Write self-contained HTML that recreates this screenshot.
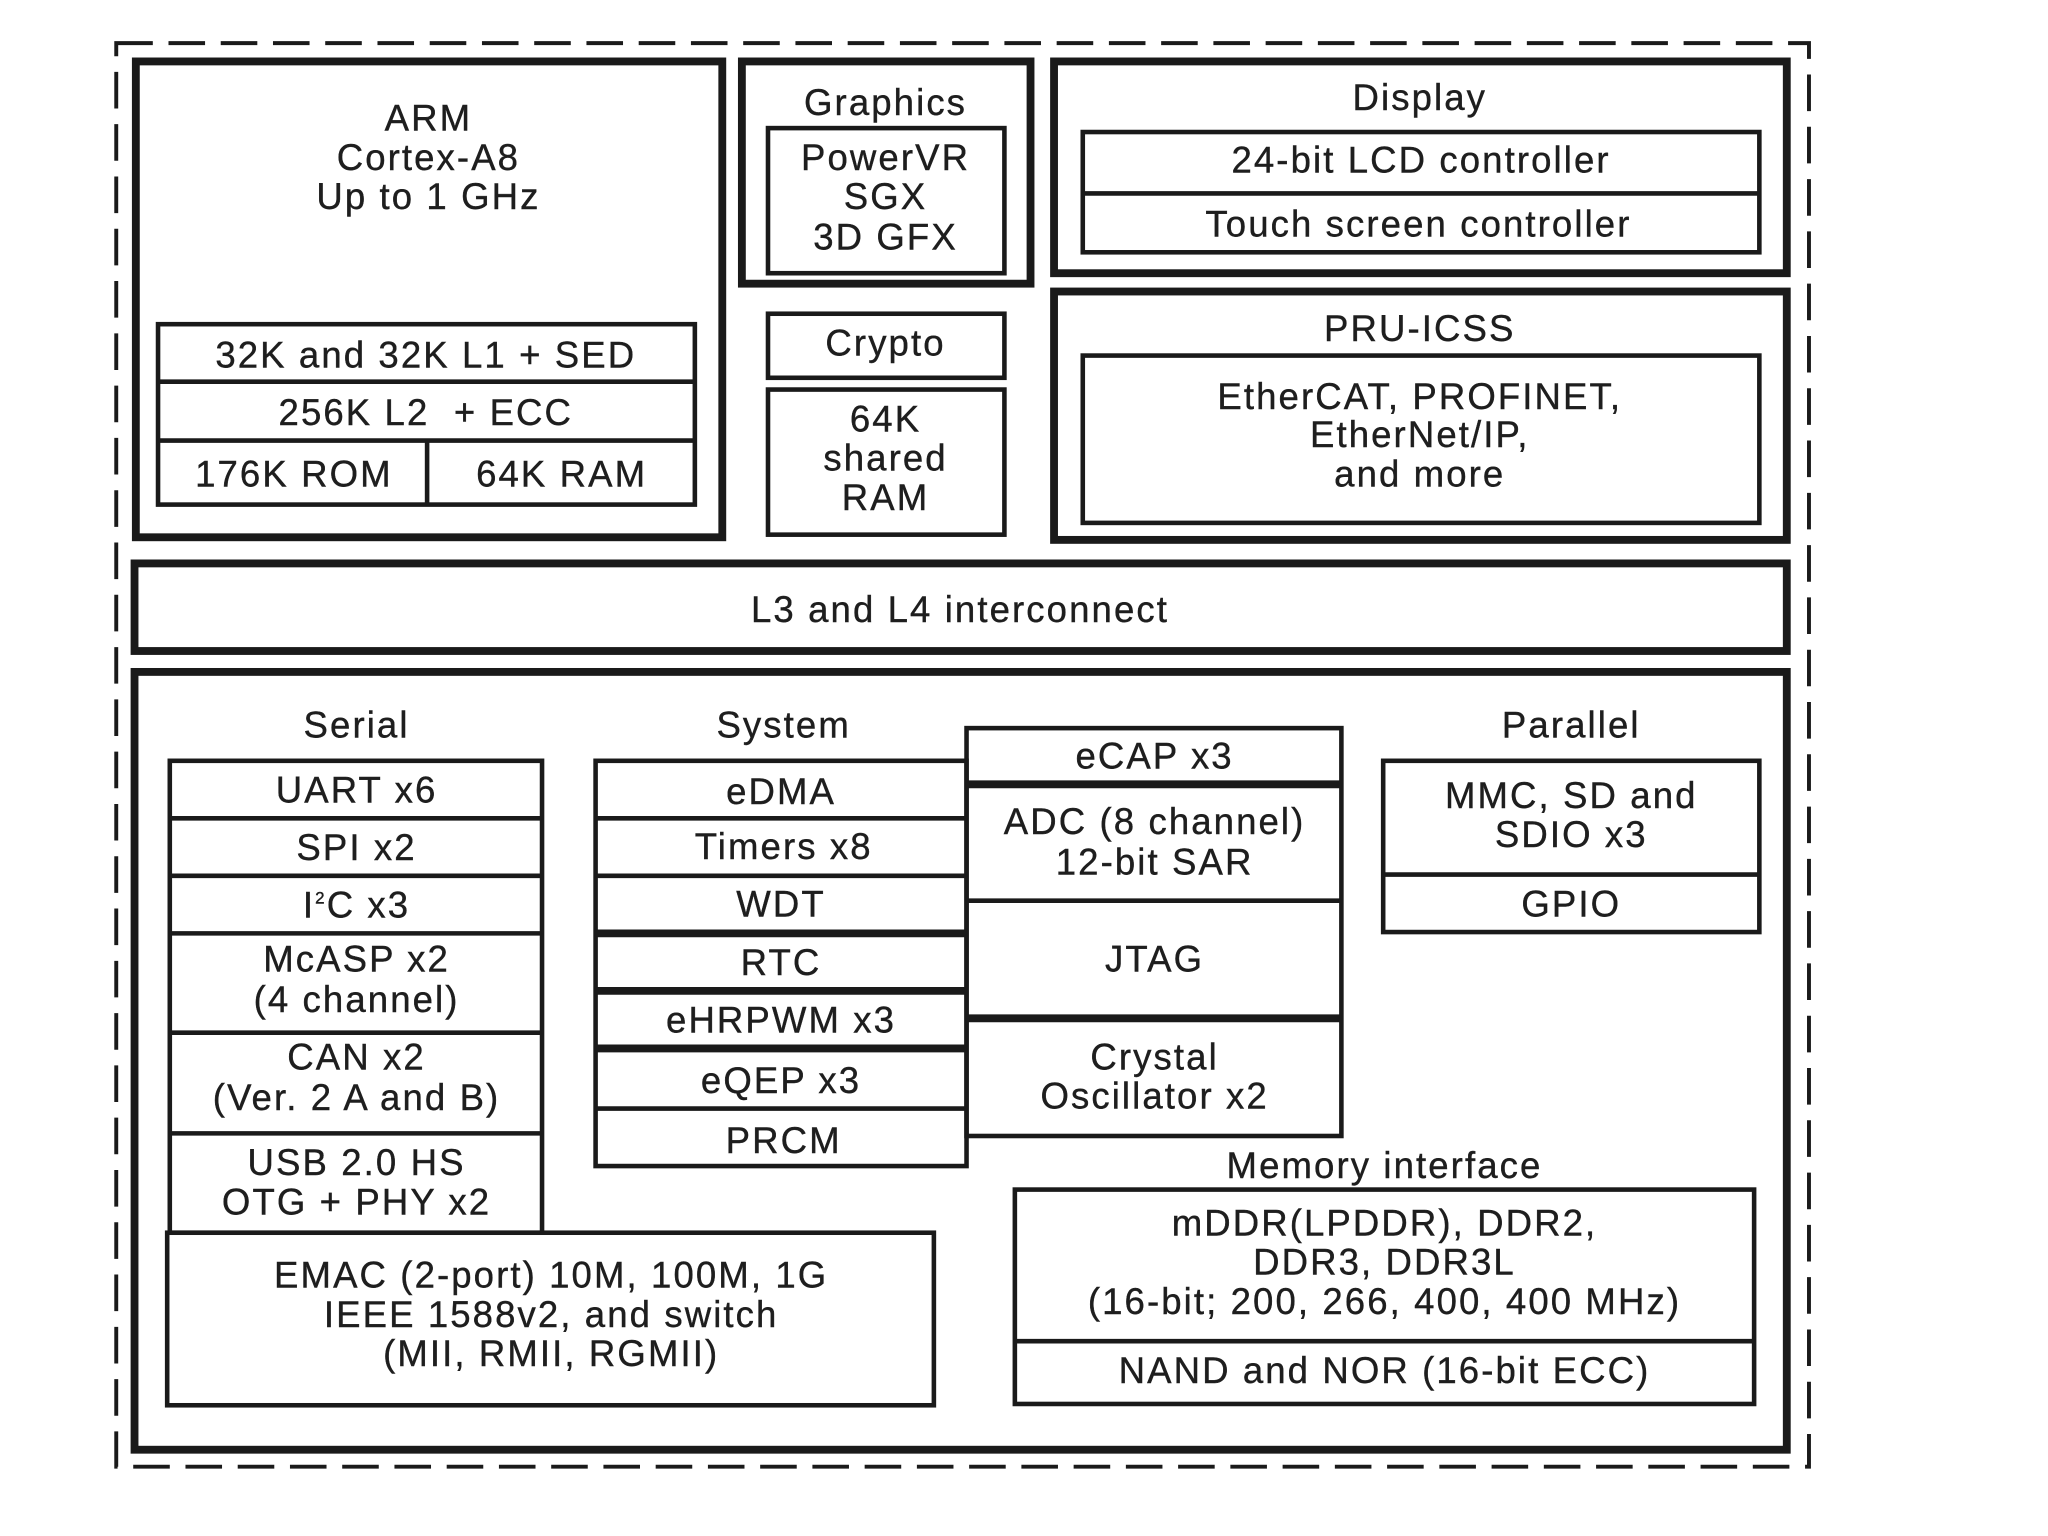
<!DOCTYPE html>
<html><head><meta charset="utf-8"><style>
html,body{margin:0;padding:0;background:#fff;}
svg{display:block;}
text{font-family:"Liberation Sans",sans-serif;font-size:28px;letter-spacing:1.6px;fill:#1e1e1e;text-anchor:middle;stroke:#1e1e1e;stroke-width:0.3;}
.k{fill:none;stroke:#1a1a1a;stroke-width:6;}
.t{fill:none;stroke:#1a1a1a;stroke-width:3.5;}
</style></head><body>
<svg width="2048" height="1536" viewBox="0 0 1568 1175" preserveAspectRatio="none" xmlns="http://www.w3.org/2000/svg">
<rect x="0" y="0" width="1568" height="1175" fill="#fff"/>
<rect x="89" y="33" width="1296" height="1089" fill="none" stroke="#1a1a1a" stroke-width="3" stroke-dasharray="28,12"/>

<!-- ARM -->
<rect class="k" x="104" y="47" width="449" height="364"/>
<text x="328" y="100">ARM</text>
<text x="328" y="130">Cortex-A8</text>
<text x="328" y="160">Up to 1 GHz</text>
<rect class="t" x="121" y="248" width="411" height="138"/>
<line class="t" x1="121" y1="292" x2="532" y2="292"/>
<line class="t" x1="121" y1="337" x2="532" y2="337"/>
<line class="t" x1="327" y1="337" x2="327" y2="386"/>
<text x="326" y="281">32K and 32K L1 + SED</text>
<text x="326" y="325">256K L2 &#160;+ ECC</text>
<text x="225" y="372">176K ROM</text>
<text x="430" y="372">64K RAM</text>

<!-- Graphics -->
<rect class="k" x="568" y="47" width="221" height="170"/>
<text x="678" y="88">Graphics</text>
<rect class="t" x="588" y="98" width="181" height="111"/>
<text x="678" y="130">PowerVR</text>
<text x="678" y="160">SGX</text>
<text x="678" y="191">3D GFX</text>

<rect class="t" x="588" y="240" width="181" height="49"/>
<text x="678" y="272">Crypto</text>
<rect class="t" x="588" y="298" width="181" height="111"/>
<text x="678" y="330">64K</text>
<text x="678" y="360">shared</text>
<text x="678" y="390">RAM</text>

<!-- Display -->
<rect class="k" x="807" y="47" width="561" height="162"/>
<text x="1087" y="84">Display</text>
<rect class="t" x="829" y="101" width="518" height="92"/>
<line class="t" x1="829" y1="148" x2="1347" y2="148"/>
<text x="1088" y="132">24-bit LCD controller</text>
<text x="1086" y="181">Touch screen controller</text>

<!-- PRU -->
<rect class="k" x="807" y="223" width="561" height="190"/>
<text x="1087" y="261">PRU-ICSS</text>
<rect class="t" x="829" y="272" width="518" height="128"/>
<text x="1087" y="313">EtherCAT, PROFINET,</text>
<text x="1087" y="342">EtherNet/IP,</text>
<text x="1087" y="372">and more</text>

<!-- Interconnect -->
<rect class="k" x="103" y="431" width="1265" height="67"/>
<text x="735" y="476">L3 and L4 interconnect</text>

<!-- Bottom -->
<rect class="k" x="103" y="514" width="1265" height="595"/>
<text x="273" y="564">Serial</text>
<text x="600" y="564">System</text>
<text x="1203" y="564">Parallel</text>

<!-- Serial -->
<rect class="t" x="130" y="582" width="285" height="361"/>
<line class="t" x1="130" y1="626" x2="415" y2="626"/>
<line class="t" x1="130" y1="670" x2="415" y2="670"/>
<line class="t" x1="130" y1="714" x2="415" y2="714"/>
<line class="t" x1="130" y1="790" x2="415" y2="790"/>
<line class="t" x1="130" y1="867" x2="415" y2="867"/>
<text x="273" y="614">UART x6</text>
<text x="273" y="658">SPI x2</text>
<text x="273" y="702">I<tspan font-size="13" dy="-11">2</tspan><tspan dy="11">C x3</tspan></text>
<text x="273" y="743">McASP x2</text>
<text x="273" y="774">(4 channel)</text>
<text x="273" y="818">CAN x2</text>
<text x="273" y="849">(Ver. 2 A and B)</text>
<text x="273" y="899">USB 2.0 HS</text>
<text x="273" y="929">OTG + PHY x2</text>

<rect class="t" x="128" y="943" width="587" height="132"/>
<text x="422" y="985">EMAC (2-port) 10M, 100M, 1G</text>
<text x="422" y="1015">IEEE 1588v2, and switch</text>
<text x="422" y="1045">(MII, RMII, RGMII)</text>

<!-- System -->
<rect class="t" x="456" y="582" width="284" height="310"/>
<line class="t" x1="456" y1="626" x2="740" y2="626"/>
<line class="t" x1="456" y1="670" x2="740" y2="670"/>
<line class="k" x1="456" y1="714" x2="740" y2="714"/>
<line class="k" x1="456" y1="758" x2="740" y2="758"/>
<line class="k" x1="456" y1="802" x2="740" y2="802"/>
<line class="t" x1="456" y1="848" x2="740" y2="848"/>
<text x="598" y="615">eDMA</text>
<text x="600" y="657">Timers x8</text>
<text x="598" y="701">WDT</text>
<text x="598" y="746">RTC</text>
<text x="598" y="790">eHRPWM x3</text>
<text x="598" y="836">eQEP x3</text>
<text x="600" y="882">PRCM</text>

<!-- Middle -->
<rect class="t" x="740" y="557" width="287" height="312"/>
<line class="k" x1="740" y1="600" x2="1027" y2="600"/>
<line class="t" x1="740" y1="689" x2="1027" y2="689"/>
<line class="k" x1="740" y1="779" x2="1027" y2="779"/>
<text x="884" y="588">eCAP x3</text>
<text x="884" y="638">ADC (8 channel)</text>
<text x="884" y="669">12-bit SAR</text>
<text x="884" y="743">JTAG</text>
<text x="884" y="818">Crystal</text>
<text x="884" y="848">Oscillator x2</text>

<!-- Parallel -->
<rect class="t" x="1059" y="582" width="288" height="131"/>
<line class="t" x1="1059" y1="669" x2="1347" y2="669"/>
<text x="1203" y="618">MMC, SD and</text>
<text x="1203" y="648">SDIO x3</text>
<text x="1203" y="701">GPIO</text>

<!-- Memory -->
<text x="1060" y="901">Memory interface</text>
<rect class="t" x="777" y="910" width="566" height="164"/>
<line class="t" x1="777" y1="1026" x2="1343" y2="1026"/>
<text x="1060" y="945">mDDR(LPDDR), DDR2,</text>
<text x="1060" y="975">DDR3, DDR3L</text>
<text x="1060" y="1005">(16-bit; 200, 266, 400, 400 MHz)</text>
<text x="1060" y="1058">NAND and NOR (16-bit ECC)</text>
</svg>
</body></html>
